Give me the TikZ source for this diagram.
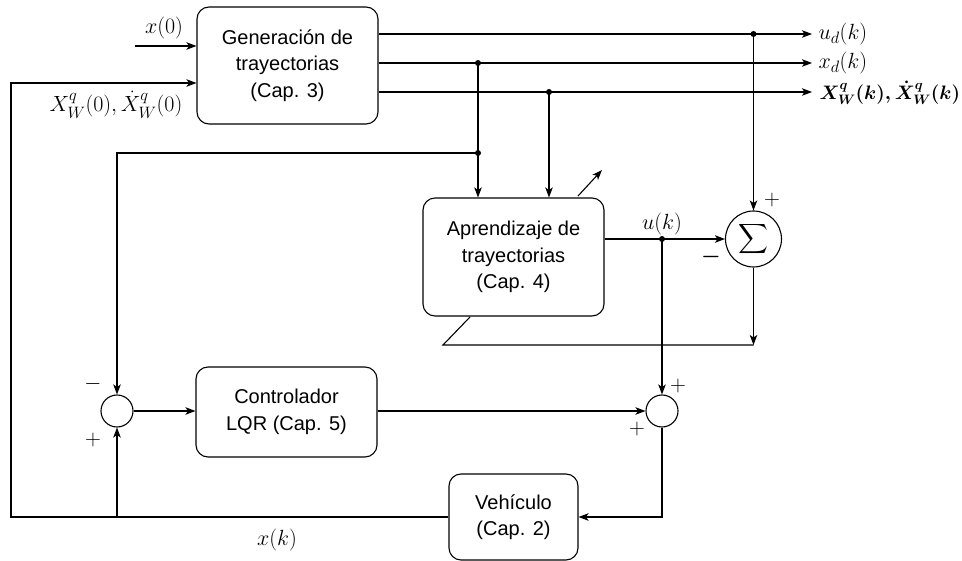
\RequirePackage{fix-cm}
\documentclass[tikz,border=0pt]{standalone}
\usepackage{amsmath}
\usepackage{fontspec}
\newfontfamily\lsans{Liberation Sans}
\usetikzlibrary{arrows.meta}
\DeclareMathSizes{22}{22}{16.5}{12}
\begin{document}
\begin{tikzpicture}[x=1pt,y=-1pt,line width=1.1pt,
  blk/.style={draw,rounded corners=12pt,align=center,inner sep=0pt,
    font=\lsans\fontsize{20}{26.5}\selectfont},
  sumc/.style={draw,circle,inner sep=0pt,minimum size=32pt},
  arr/.style={-{Stealth[length=10pt,width=7.5pt,inset=2.5pt]}},
  lbl/.style={inner sep=0pt,font=\fontsize{22}{26}\selectfont}]
\useasboundingbox (0,0) rectangle (962,561);
% blocks
\node[blk,minimum width=181pt,minimum height=117pt] (gen) at (287.5,65.5) {Generación de\\trayectorias\\(Cap. 3)};
\node[blk,minimum width=181pt,minimum height=118pt] (apr) at (513.5,257) {Aprendizaje de\\trayectorias\\(Cap. 4)};
\node[blk,minimum width=181pt,minimum height=90pt] (lqr) at (286.5,412) {Controlador\\LQR (Cap. 5)};
\node[blk,minimum width=129pt,minimum height=86pt] (veh) at (513.5,517) {Vehículo\\(Cap. 2)};
\node[sumc] (s1) at (117,411) {};
\node[sumc] (s2) at (662,411) {};
\node[sumc,minimum size=56pt,font=\fontsize{20}{24}\selectfont] (sig) at (753.5,239) {$\displaystyle\sum$};
% coordinates
\coordinate (x0s) at (135,46);
\coordinate (fbB) at (11,517);
\coordinate (fbT) at (11,83);
\coordinate (udE) at (812,34);
\coordinate (xdE) at (812,63);
\coordinate (XE) at (812,92);
\coordinate (dxd) at (478,63);
\coordinate (dX) at (549,92);
\coordinate (dud) at (753.5,34);
\coordinate (dfb) at (478,153);
\coordinate (du) at (662,239);
\coordinate (c1) at (117,153);
\coordinate (c2) at (662,517);
\coordinate (c3) at (117,517);
\coordinate (eR) at (753.5,345);
\coordinate (eL) at (443,345);
\coordinate (eS) at (470,317);
\coordinate (a1) at (578,196);
\coordinate (a2) at (602,170);
% connectors
\draw[arr] (x0s) -- (x0s -| gen.west);
\draw[arr] (veh.west) -- (fbB) -- (fbT) -- (fbT -| gen.west);
\draw[arr] (udE -| gen.east) -- (udE);
\draw[arr] (xdE -| gen.east) -- (xdE);
\draw[arr] (XE -| gen.east) -- (XE);
\draw[arr] (dxd) -- (dxd |- apr.north);
\draw[arr] (dX) -- (dX |- apr.north);
\draw[arr] (dud) -- (sig.north);
\draw[arr] (dfb) -- (c1) -- (s1.north);
\draw[arr] (du -| apr.east) -- (sig.west);
\draw[arr] (du) -- (s2.north);
\draw[arr] (s1.east) -- (s1 -| lqr.west);
\draw[arr] (s2 -| lqr.east) -- (s2.west);
\draw[arr] (s2.south) -- (c2) -- (c2 -| veh.east);
\draw[arr] (c3) -- (s1.south);
\draw[arr] (sig.south) -- (eR);
\draw (eR) -- (eL) -- (eS);
\draw[arr] (a1) -- (a2);
\foreach \p in {dxd,dX,dud,dfb,du} \fill (\p) circle (3pt);
% labels
\node[lbl] (lx0) at (164,28) {$x(0)$};
\node[lbl] (lX0) at (116,105) {$X_W^q(0),\dot{X}_W^q(0)$};
\node[lbl,anchor=west] (lud) at (818,34) {$u_d(k)$};
\node[lbl,anchor=west] (lxd) at (818,63) {$x_d(k)$};
\node[lbl,anchor=west,font=\fontsize{19.5}{23}\selectfont] (lXk) at (819,93) {$\boldsymbol{X_W^q(k),\dot{X}_W^q(k)}$};
\node[lbl] (luk) at (662,224) {$u(k)$};
\node[lbl] (lxk) at (277,540) {$x(k)$};
\node[lbl] (m1) at (93,384) {$-$};
\node[lbl] (p1) at (93,440) {$+$};
\node[lbl] (p2a) at (678,386) {$+$};
\node[lbl] (p2b) at (637,429) {$+$};
\node[lbl] (p3) at (772,200) {$+$};
\node[lbl] (m3) at (711,257) {$\boldsymbol{-}$};
\end{tikzpicture}
\end{document}
